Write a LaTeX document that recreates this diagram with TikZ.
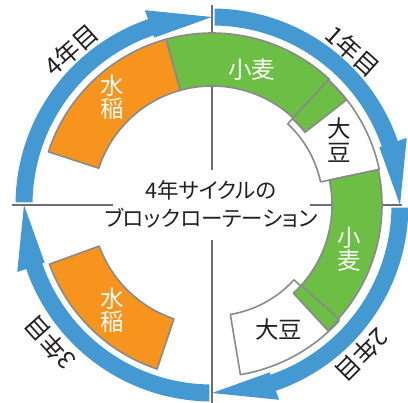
\documentclass[tikz,border=0pt]{standalone}
\usepackage{fontspec}
\usetikzlibrary{calc}
\newfontfamily\jp[RawFeature=+palt]{Noto Sans CJK JP}
\definecolor{arrowblue}{HTML}{4499D3}
\definecolor{riceorange}{HTML}{F7941D}
\definecolor{wheatgreen}{HTML}{6DBE45}
\definecolor{segborder}{HTML}{8A8A8A}
\definecolor{axisgray}{HTML}{6D6E71}
\definecolor{inkblack}{HTML}{231F20}
\newcommand\ringseg[5][]{\path[#1] (#2:#4) arc[start angle=#2,end angle=#3,radius=#4] -- (#3:#5) arc[start angle=#3,end angle=#2,radius=#5] -- cycle;}
\newcommand\yeararrow[1]{%
  \fill[arrowblue] (#1:179.5pt) arc[start angle=#1,end angle=#1-70.2,radius=179.5pt]
    -- ($(0,0)+(#1-70.2:177pt)$) -- ($(0,0)+(#1-89.2:188pt)$) -- ($(0,0)+(#1-70.2:206pt)$)
    -- ($(0,0)+(#1-70.2:196.5pt)$) arc[start angle=#1-70.2,end angle=#1,radius=196.5pt] -- cycle;}
\tikzset{
  segline/.style={draw=segborder,line width=1.6pt,line join=round},
  axisline/.style={draw=axisgray,line width=1.3pt},
  seglabel/.style={font=\jp\fontsize{23.5}{23.5}\selectfont,align=center,inner sep=0pt},
  yearlabel/.style={font=\jp\fontsize{24.5}{24.5}\selectfont,text=inkblack,inner sep=0pt},
  centerlabel/.style={font=\jp\fontsize{21.5}{28}\selectfont,text=inkblack,align=center,inner sep=0pt}
}
\begin{document}
\begin{tikzpicture}[x=1pt,y=1pt]
\useasboundingbox (-212,-198) rectangle (196,205);
% axis lines
\draw[axisline] (0,200) coordinate (vt1) -- (0,35) coordinate (vt2);
\draw[axisline] (0,-35) coordinate (vb1) -- (0,-198) coordinate (vb2);
\draw[axisline] (-200,0) coordinate (hl1) -- (-99,0) coordinate (hl2);
\draw[axisline] (98,0) coordinate (hr1) -- (190,0) coordinate (hr2);
% blue year arrows
\yeararrow{179.2}
\yeararrow{89.2}
\yeararrow{-0.8}
\yeararrow{-90.8}
% soybean segments (white)
\ringseg[segline,fill=white]{47}{12}{111pt}{171pt}
\ringseg[segline,fill=white]{-42.4}{-80.5}{111pt}{172pt}
% wheat segments (green)
\ringseg[segline,fill=wheatgreen]{105.5}{47}{119pt}{172pt}
\ringseg[segline,fill=wheatgreen]{47}{38}{118pt}{170.5pt}
\ringseg[segline,fill=wheatgreen]{12}{-42}{120pt}{170pt}
\ringseg[segline,fill=wheatgreen]{-42}{-47.3}{120pt}{171pt}
% paddy rice segments (orange)
\ringseg[segline,fill=riceorange]{105.5}{162}{119pt}{172pt}
\ringseg[segline,fill=riceorange]{200}{251.5}{120pt}{173pt}
% segment labels
\node[seglabel,text=white] (rice4) at (-100,108) {水\\稲};
\node[seglabel,text=white] (wheat1) at (40,135) {小麦};
\node[seglabel,text=inkblack] (soy1) at (127,65) {大\\豆};
\node[seglabel,text=white] (wheat2) at (137,-44) {小\\麦};
\node[seglabel,text=inkblack] (soy2) at (67,-125) {大豆};
\node[seglabel,text=white] (rice3) at (-100,-105) {水\\稲};
% year labels
\node[yearlabel,rotate=42] (y4) at (-141,155) {4年目};
\node[yearlabel,rotate=-42] (y1) at (141,154) {1年目};
\node[yearlabel,rotate=-135] (y2) at (150,-150) {2年目};
\node[yearlabel,rotate=132] (y3) at (-162,-138) {3年目};
% center title
\node[centerlabel] (title) at (-1,1) {4年サイクルの\\ブロックローテーション};
\end{tikzpicture}
\end{document}
